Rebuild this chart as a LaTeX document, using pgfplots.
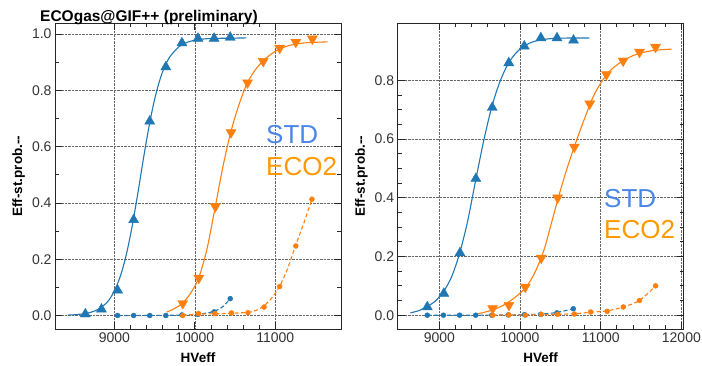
\documentclass[border=0pt]{standalone}
\usepackage{fontspec}
\setmainfont{Liberation Sans}
\usepackage{pgfplots}
\pgfplotsset{compat=1.18}
\definecolor{mblue}{HTML}{1F77B4}
\definecolor{morange}{HTML}{FF7F0E}
\definecolor{tblue}{HTML}{4A86E8}
\definecolor{torange}{HTML}{FF9900}
\pgfplotsset{
 panel/.style={
  scale only axis, width=286pt, height=306.3pt, anchor=south west,
  axis line style={black!85, line width=0.9pt},
  tick style={black!85, line width=0.7pt},
  major tick length=7pt, minor tick length=4pt,
  tick align=inside,
  scaled x ticks=false, scaled y ticks=false,
  grid=major, major grid style={densely dotted, black!60, line width=0.6pt},
  ticklabel style={font=\fontsize{14}{14}\selectfont, text=black!80},
  /pgf/number format/assume math mode=true,
  xticklabel style={/pgf/number format/1000 sep={}},
  yticklabel style={/pgf/number format/.cd, fixed, fixed zerofill, precision=1},
  xlabel={HVeff}, ylabel={Eff-st.prob.-{}-},
  label style={font=\bfseries\fontsize{13.5}{14}\selectfont},
  xlabel style={at={(axis description cs:0.5,-0.108)}, anchor=base},
  ylabel style={at={(axis description cs:-0.115,0.5)}, anchor=base},
  minor x tick num=4,
 },
 fit/.style={line width=1.1pt, no marks, smooth},
 dfit/.style={line width=1.1pt, no marks, smooth, dash pattern=on 4pt off 2.5pt},
 tri/.style={only marks, mark=triangle*, mark size=5.8pt},
 itri/.style={only marks, mark=triangle*, mark size=5.8pt, mark options={rotate=180}},
 dots/.style={only marks, mark=*, mark size=2.5pt},
}
\begin{document}
\begin{tikzpicture}
\useasboundingbox (0,0) rectangle (702pt,365pt);
% ---------------- left panel ----------------
\begin{axis}[panel, at={(55pt,35.7pt)},
  xmin=8263, xmax=11816, ymin=-0.049, ymax=1.039,
  xtick={9000,10000,11000}, ytick={0,0.2,0.4,0.6,0.8,1.0}, minor y tick num=1]
% STD dashed fit + dots
\addplot[dfit, mblue] coordinates {(9040,0)(9300,0)(9600,0.0005)(9800,0.0015)(9950,0.003)(10050,0.005)(10150,0.009)(10250,0.016)(10350,0.032)(10440,0.06)};
\addplot[dots, mblue] coordinates {(9040,0)(9240,0)(9440,0)(9640,0)(9840,0.002)(10040,0.004)(10240,0.013)(10440,0.06)};
% ECO2 dashed fit + dots
\addplot[dfit, morange] coordinates {(9850,0)(10050,0.005)(10250,0.006)(10450,0.008)(10650,0.011)(10750,0.017)(10850,0.032)(10950,0.06)(11050,0.102)(11150,0.165)(11250,0.247)(11350,0.325)(11455,0.413)};
\addplot[dots, morange] coordinates {(9850,0)(10045,0.007)(10250,0.007)(10455,0.009)(10660,0.01)(10860,0.03)(11055,0.103)(11255,0.247)(11455,0.413)};
% STD fit + triangles
\addplot[fit, mblue] coordinates {(8420,0.0015)(8500,0.0026)(8600,0.0053)(8700,0.0108)(8800,0.022)(8900,0.044)(8950,0.062)(9000,0.087)(9050,0.12)(9100,0.163)(9150,0.218)(9200,0.285)(9250,0.363)(9300,0.448)(9350,0.537)(9400,0.622)(9450,0.700)(9500,0.767)(9550,0.822)(9600,0.866)(9650,0.899)(9700,0.923)(9800,0.954)(9900,0.970)(10000,0.978)(10100,0.982)(10200,0.984)(10400,0.985)(10640,0.986)};
\addplot[tri, mblue] coordinates {(8640,0.005)(8840,0.022)(9040,0.09)(9240,0.34)(9440,0.69)(9640,0.883)(9840,0.968)(10040,0.984)(10240,0.984)(10440,0.988)};
% ECO2 fit + triangles
\addplot[fit, morange] coordinates {(9650,0.012)(9750,0.025)(9850,0.045)(9950,0.08)(10050,0.135)(10150,0.235)(10250,0.38)(10350,0.53)(10450,0.655)(10550,0.75)(10650,0.825)(10750,0.872)(10850,0.905)(10950,0.929)(11050,0.946)(11150,0.957)(11250,0.964)(11350,0.968)(11450,0.970)(11550,0.971)(11650,0.972)};
\addplot[itri, morange] coordinates {(9850,0.043)(10050,0.133)(10255,0.387)(10450,0.65)(10655,0.827)(10850,0.903)(11055,0.95)(11255,0.971)(11460,0.983)};
\end{axis}
% ---------------- right panel ----------------
\begin{axis}[panel, at={(397.7pt,35.7pt)},
  xmin=8483, xmax=12029, ymin=-0.048, ymax=0.995,
  xtick={9000,10000,11000,12000}, ytick={0,0.2,0.4,0.6,0.8}, minor y tick num=3]
\addplot[dfit, mblue] coordinates {(8850,0)(9450,0)(9850,0.001)(10050,0.002)(10250,0.004)(10450,0.009)(10660,0.022)};
\addplot[dots, mblue] coordinates {(8850,0)(9050,0)(9250,0)(9450,0)(9650,0)(9855,0.001)(10055,0.002)(10255,0.003)(10458,0.008)(10660,0.022)};
\addplot[dfit, morange] coordinates {(9660,0)(9862,0.001)(10065,0.001)(10263,0.002)(10466,0.003)(10673,0.005)(10875,0.01)(11080,0.015)(11280,0.028)(11480,0.05)(11680,0.10)};
\addplot[dots, morange] coordinates {(9660,0)(9862,0.001)(10065,0)(10263,0.003)(10466,0.003)(10673,0.004)(10875,0.011)(11080,0.013)(11280,0.028)(11480,0.05)(11680,0.10)};
\addplot[fit, mblue] coordinates {(8640,0.008)(8750,0.016)(8850,0.03)(8950,0.048)(9050,0.08)(9150,0.13)(9250,0.21)(9350,0.32)(9450,0.46)(9550,0.595)(9650,0.71)(9750,0.795)(9850,0.855)(9950,0.893)(10050,0.916)(10150,0.93)(10250,0.937)(10350,0.941)(10450,0.943)(10650,0.944)(10860,0.944)};
\addplot[tri, mblue] coordinates {(8850,0.028)(9055,0.074)(9255,0.212)(9452,0.465)(9655,0.707)(9860,0.859)(10052,0.916)(10258,0.944)(10458,0.944)(10663,0.936)};
\addplot[fit, morange] coordinates {(9480,0.005)(9600,0.013)(9700,0.022)(9800,0.035)(9900,0.053)(10000,0.075)(10100,0.105)(10200,0.155)(10300,0.225)(10400,0.325)(10500,0.425)(10600,0.515)(10700,0.595)(10800,0.67)(10900,0.74)(11000,0.79)(11100,0.828)(11200,0.852)(11300,0.87)(11400,0.884)(11500,0.893)(11600,0.899)(11700,0.903)(11880,0.906)};
\addplot[itri, morange] coordinates {(9660,0.023)(9862,0.034)(10065,0.096)(10263,0.195)(10466,0.40)(10673,0.573)(10864,0.72)(11071,0.82)(11278,0.866)(11481,0.896)(11680,0.913)};
\end{axis}
% ---------------- texts ----------------
\node[anchor=base west, inner sep=0pt, font=\bfseries\fontsize{15.5}{16}\selectfont] at (40pt,343pt) {ECOgas@GIF++ (preliminary)};
\node[anchor=base west, inner sep=0pt, text=tblue, font=\fontsize{26}{26}\selectfont] at (266pt,222pt) {STD};
\node[anchor=base west, inner sep=0pt, text=torange, font=\fontsize{26}{26}\selectfont] at (266pt,190pt) {ECO2};
\node[anchor=base west, inner sep=0pt, text=tblue, font=\fontsize{26}{26}\selectfont] at (604pt,158pt) {STD};
\node[anchor=base west, inner sep=0pt, text=torange, font=\fontsize{26}{26}\selectfont] at (604pt,127pt) {ECO2};
\end{tikzpicture}
\end{document}
